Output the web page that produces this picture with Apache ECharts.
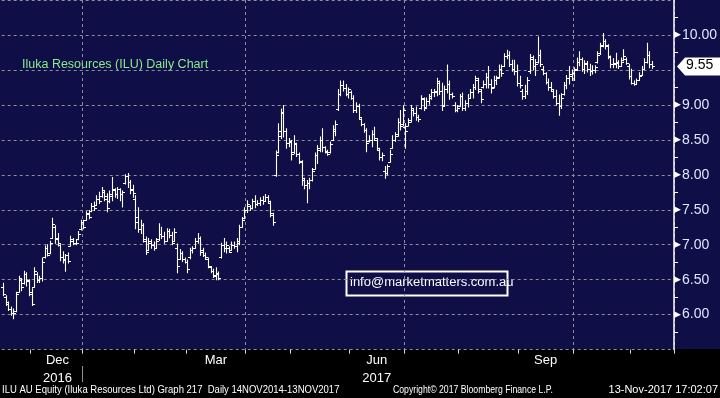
<!DOCTYPE html>
<html>
<head>
<meta charset="utf-8">
<script src="https://cdn.jsdelivr.net/npm/echarts@6/dist/echarts.min.js"></script>
<style>
  html, body { margin: 0; padding: 0; background: #000; }
  #main { width: 720px; height: 398px; }
</style>
</head>
<body>
<div id="main"></div>
<script>
// ILU daily bars, trading days 16 Nov 2016 - 13 Nov 2017
const openPx = [
  6.40,6.25,6.15,6.08,6.02,6.05,6.32,6.50,6.45,6.58, 6.48,6.30,6.40,6.58,6.50,6.52,6.82,6.95,6.88,7.10,
  7.25,7.10,7.00,6.82,6.80,6.85,6.98,7.06,7.02,7.08, 7.22,7.33,7.36,7.45,7.48,7.55,7.57,7.65,7.70,7.76,
  7.70,7.62,7.70,7.78,7.72,7.80,7.72,7.88,7.98,7.90, 7.80,
  7.66,7.40,7.22,7.28,7.05,6.92,7.02,7.00,6.96,7.08, 7.15,7.12,7.06,7.20,7.14,7.05,6.95,6.80,6.88,6.80,
  6.76,6.82,6.92,6.96,7.05,7.10,6.92,6.86,6.80,6.68, 6.62,6.55,6.58,6.82,7.00,6.95,6.96,6.92,7.00,6.98,
  7.02,7.26,7.38,7.50,7.55,7.52,7.62,7.58,7.60,7.64, 7.62,7.68,7.60,7.42,8.00,
  8.32,8.55,8.88,8.62,8.45,8.47,8.32,8.44,8.30,8.18, 7.92,7.85,7.88,7.92,8.08,8.28,8.36,8.50,8.40,8.32,
  8.32,8.50,8.62,8.94,9.15,9.28,9.24,9.16,9.18,9.10, 8.92,8.98,8.80,8.72,8.64,8.48,8.50,8.58,8.50,8.36,
  8.25,8.05,8.02,8.18,8.38,
  8.50,8.58,8.75,8.72,8.68,8.70,8.76,8.93,8.88,8.82, 8.95,9.08,8.97,9.05,9.10,9.18,9.18,9.32,9.20,9.00,
  9.22,9.30,9.15,9.00,8.92,8.98,9.12,8.95,9.02,9.10, 9.18,9.25,9.36,9.20,9.26,9.30,9.40,9.30,9.26,9.35,
  9.40,9.52,9.55,9.70,9.72,9.58,9.52,9.48,9.32,9.20,
  9.12,9.20,9.48,9.65,9.55,9.62,9.72,9.52,9.45,9.33, 9.25,9.20,9.12,9.02,8.98,9.15,9.28,9.38,9.42,9.45,
  9.52,9.62,9.65,9.52,9.58,9.52,9.48,9.50,9.62,9.74, 9.85,9.92,9.84,9.68,9.58,9.58,9.60,9.56,9.64,9.66,
  9.56,9.42,9.32,9.30,9.36,9.43,9.52,9.62,9.72,9.58
];
const highPx = [
  6.45,6.27,6.18,6.11,6.08,6.32,6.55,6.51,6.62,6.60, 6.50,6.37,6.67,6.60,6.55,6.81,6.98,7.00,7.05,7.38,
  7.27,7.16,7.00,6.90,6.86,6.88,7.12,7.09,7.07,7.19, 7.35,7.35,7.47,7.49,7.59,7.61,7.70,7.75,7.82,7.77,
  7.73,7.77,7.96,7.80,7.82,7.80,7.77,8.00,8.02,7.92, 7.85,
  7.70,7.53,7.35,7.30,7.11,7.09,7.07,7.04,7.09,7.30, 7.25,7.18,7.23,7.22,7.18,7.23,7.01,6.93,6.90,6.81,
  6.78,6.95,6.97,7.09,7.16,7.11,6.95,6.88,6.81,6.69, 6.65,6.67,6.61,7.02,7.09,7.04,6.97,7.04,7.04,7.09,
  7.28,7.39,7.53,7.63,7.56,7.65,7.70,7.63,7.67,7.69, 7.72,7.70,7.62,7.45,8.34,
  8.73,8.94,8.99,8.66,8.52,8.49,8.56,8.45,8.31,8.20, 7.95,7.92,7.95,8.09,8.31,8.42,8.54,8.66,8.40,8.35,
  8.47,8.70,8.77,9.22,9.34,9.34,9.29,9.24,9.20,9.13, 9.03,9.01,8.80,8.73,8.66,8.56,8.63,8.68,8.52,8.38,
  8.31,8.12,8.14,8.35,8.56,
  8.60,8.80,8.92,8.99,8.73,8.80,8.99,8.95,8.97,8.85, 9.13,9.10,9.10,9.15,9.22,9.22,9.38,9.34,9.31,9.27,
  9.57,9.34,9.17,9.03,8.99,9.15,9.17,9.06,9.15,9.22, 9.29,9.41,9.38,9.22,9.34,9.45,9.55,9.36,9.41,9.41,
  9.57,9.57,9.73,9.78,9.76,9.64,9.64,9.57,9.41,9.22,
  9.28,9.39,9.72,9.70,9.65,9.97,9.78,9.55,9.46,9.37, 9.32,9.22,9.21,9.14,9.16,9.32,9.42,9.55,9.50,9.53,
  9.67,9.76,9.67,9.63,9.62,9.58,9.56,9.56,9.76,9.88, 10.02,9.93,9.86,9.70,9.66,9.74,9.63,9.67,9.79,9.67,
  9.58,9.51,9.34,9.37,9.46,9.55,9.66,9.88,9.76,9.62
];
const lowPx = [
  6.27,6.13,6.06,5.99,5.94,6.04,6.32,6.34,6.44,6.41, 6.27,6.13,6.39,6.46,6.46,6.48,6.81,6.84,6.87,7.09,
  7.02,6.98,6.77,6.74,6.62,6.74,6.98,7.00,7.00,7.07, 7.21,7.23,7.35,7.37,7.47,7.49,7.56,7.59,7.68,7.63,
  7.47,7.60,7.63,7.68,7.66,7.63,7.54,7.87,7.82,7.73, 7.68,
  7.23,7.18,7.16,7.04,6.86,6.92,6.95,6.92,6.95,7.06, 7.09,7.02,7.05,7.10,7.00,7.05,6.60,6.79,6.76,6.74,
  6.60,6.80,6.88,6.95,7.02,6.85,6.83,6.79,6.67,6.60, 6.53,6.50,6.50,6.81,6.90,6.88,6.89,6.92,6.95,6.90,
  7.00,7.25,7.37,7.46,7.49,7.51,7.53,7.56,7.56,7.58, 7.62,7.60,7.40,7.28,7.98,
  8.31,8.52,8.54,8.38,8.40,8.21,8.30,8.26,8.16,7.85, 7.80,7.60,7.80,7.91,8.08,8.16,8.33,8.33,8.31,8.28,
  8.31,8.49,8.56,8.92,9.13,9.20,9.13,9.10,9.08,8.89, 8.89,8.80,8.70,8.61,8.33,8.47,8.40,8.49,8.35,8.21,
  8.20,7.95,8.00,8.18,8.38,
  8.48,8.55,8.64,8.70,8.38,8.70,8.76,8.84,8.78,8.76, 8.94,8.92,8.97,9.01,9.08,9.12,9.13,9.15,8.92,8.98,
  9.17,9.08,9.10,8.90,8.90,8.98,8.92,8.92,8.97,9.10, 9.10,9.22,9.17,9.03,9.24,9.24,9.24,9.17,9.24,9.29,
  9.38,9.41,9.55,9.66,9.55,9.48,9.43,9.27,9.24,9.08,
  9.09,9.15,9.45,9.50,9.42,9.60,9.55,9.43,9.30,9.21, 9.20,9.10,9.00,8.85,8.95,9.14,9.23,9.30,9.35,9.35,
  9.49,9.56,9.48,9.45,9.47,9.42,9.44,9.46,9.60,9.72, 9.83,9.80,9.66,9.53,9.53,9.53,9.52,9.55,9.63,9.58,
  9.37,9.30,9.28,9.29,9.35,9.42,9.52,9.60,9.53,9.52
];
const closePx = [
  6.30,6.18,6.08,6.02,6.03,6.30,6.52,6.40,6.58,6.50, 6.32,6.15,6.62,6.50,6.52,6.76,6.95,6.86,7.03,7.30,
  7.08,7.02,6.82,6.78,6.85,6.77,7.08,7.02,7.03,7.15, 7.33,7.26,7.44,7.40,7.55,7.52,7.66,7.62,7.78,7.66,
  7.52,7.72,7.80,7.72,7.80,7.72,7.76,7.98,7.90,7.78, 7.74,
  7.32,7.22,7.28,7.08,6.90,7.05,7.00,6.95,7.05,7.15, 7.12,7.05,7.20,7.14,7.03,7.18,6.70,6.88,6.80,6.76,
  6.65,6.92,6.95,7.05,7.10,6.90,6.86,6.82,6.70,6.62, 6.56,6.60,6.52,7.00,6.95,7.00,6.90,7.00,6.98,7.05,
  7.25,7.35,7.50,7.58,7.52,7.62,7.58,7.60,7.64,7.62, 7.68,7.62,7.45,7.32,8.28,
  8.62,8.90,8.62,8.45,8.48,8.30,8.45,8.30,8.20,7.95, 7.85,7.88,7.92,8.05,8.28,8.38,8.50,8.40,8.34,8.30,
  8.44,8.65,8.72,9.15,9.28,9.24,9.16,9.22,9.10,8.92, 8.98,8.82,8.72,8.64,8.45,8.50,8.58,8.52,8.38,8.25,
  8.28,8.02,8.12,8.30,8.50,
  8.56,8.75,8.70,8.92,8.62,8.78,8.95,8.88,8.82,8.80, 9.10,8.96,9.05,9.12,9.18,9.20,9.34,9.20,8.98,9.22,
  9.30,9.15,9.12,8.92,8.95,9.12,8.95,9.02,9.10,9.18, 9.25,9.38,9.22,9.08,9.30,9.40,9.30,9.24,9.36,9.38,
  9.52,9.45,9.70,9.72,9.58,9.52,9.48,9.32,9.28,9.12,
  9.20,9.35,9.68,9.55,9.58,9.72,9.58,9.46,9.33,9.25, 9.22,9.12,9.03,8.98,9.10,9.28,9.38,9.44,9.45,9.50,
  9.62,9.65,9.52,9.60,9.52,9.48,9.50,9.54,9.72,9.84, 9.92,9.86,9.70,9.58,9.60,9.62,9.55,9.62,9.70,9.60,
  9.42,9.32,9.30,9.35,9.42,9.52,9.62,9.72,9.58,9.55
];

// first trading day of each month (bar index), Dec .. Nov
const monthStarts = [11, 31, 51, 71, 94, 111, 134, 155, 176, 199, 220, 242];
// quarter boundaries get a vertical grid line
const quarterStarts = [31, 94, 155, 220];
// labelled months: text and [first bar, first bar of next month]
const monthNames = ['Dec\n2016', 'Mar', 'Jun\n2017', 'Sep'];
const monthSpans = [[11, 31], [71, 94], [134, 155], [199, 220]];
// axis slots (bars plus empty space on the right)
const slotCount = 259;
const yTicks = [6, 6.5, 7, 7.5, 8, 8.5, 9, 10];

const navy = '#0f0e47';
const gridGray = '#8e8e9e';
const footFont = '11px "Liberation Sans"';

const cats = [];
for (let i = 0; i < slotCount; i++) cats.push('');
monthSpans.forEach((s, j) => { cats[Math.floor((s[0] + s[1]) / 2)] = monthNames[j]; });

const ohlc = openPx.map((o, i) => [i, o, closePx[i], lowPx[i], highPx[i]]);

const chart = echarts.init(document.getElementById('main'));

function renderBar(params, api) {
  const i = api.value(0);
  const pO = api.coord([i, api.value(1)]);
  const pC = api.coord([i, api.value(2)]);
  const pL = api.coord([i, api.value(3)]);
  const pH = api.coord([i, api.value(4)]);
  const x = Math.round(pH[0]) + 0.5;
  const st = { stroke: '#ffffff', lineWidth: 1.1 };
  return {
    type: 'group',
    children: [
      { type: 'line', shape: { x1: x, y1: pH[1] - 0.5, x2: x, y2: pL[1] + 0.5 }, style: st },
      { type: 'line', shape: { x1: x - 2.5, y1: Math.round(pO[1]) + 0.5, x2: x, y2: Math.round(pO[1]) + 0.5 }, style: st },
      { type: 'line', shape: { x1: x, y1: Math.round(pC[1]) + 0.5, x2: x + 2.5, y2: Math.round(pC[1]) + 0.5 }, style: st }
    ]
  };
}

const option = {
  backgroundColor: '#000',
  animation: false,
  grid: { left: 1.4, right: 44, top: -6.05, bottom: 48.4 },
  xAxis: {
    type: 'category',
    data: cats,
    boundaryGap: true,
    axisLine: { show: false },
    axisTick: {
      show: true,
      length: 4,
      interval: (i) => monthStarts.indexOf(i) >= 0,
      lineStyle: { color: '#d8d8d8', width: 1 }
    },
    axisLabel: {
      interval: 0,
      color: '#ffffff',
      fontFamily: 'Liberation Sans',
      fontSize: 13,
      lineHeight: 18,
      margin: 2
    },
    splitLine: {
      show: true,
      interval: (i) => quarterStarts.indexOf(i) >= 0,
      lineStyle: { color: gridGray, type: [3, 3], width: 1 }
    }
  },
  yAxis: {
    type: 'value',
    position: 'right',
    min: 5.5,
    max: 10.5,
    interval: 0.5,
    axisLine: { show: true, lineStyle: { color: '#ffffff', width: 1.5 } },
    axisTick: { show: false },
    minorTick: { show: true, splitNumber: 2, length: 4, lineStyle: { color: '#ffffff', width: 1 } },
    splitLine: { show: true, lineStyle: { color: gridGray, type: [3, 3], width: 1 } },
    axisLabel: {
      margin: 0,
      formatter: (v) => yTicks.indexOf(v) >= 0 ? '{t|\u25B6}{v|' + v.toFixed(2) + '}' : '',
      rich: {
        t: { color: '#ffffff', fontSize: 9, fontFamily: 'DejaVu Sans', padding: [0, 1, 0, 0] },
        v: { color: '#dfe6ff', fontSize: 14, fontFamily: 'Liberation Sans' }
      }
    }
  },
  series: [{
    type: 'custom',
    renderItem: renderBar,
    encode: { x: 0, y: [1, 2, 3, 4] },
    data: ohlc,
    clip: true
  }],
  graphic: [
    { type: 'rect', id: 'bg', z: -100, silent: true,
      shape: { x: 0, y: 0, width: 720, height: 349 }, style: { fill: navy } },
    { type: 'text', id: 'title', left: 22, top: 58,
      style: { text: 'Iluka Resources (ILU) Daily Chart', fill: '#8ceb8c',
               font: '12.5px "Liberation Sans"' } },
    { type: 'rect', id: 'infoBox', shape: { x: 346.5, y: 271.5, width: 161, height: 24 },
      style: { fill: navy, stroke: '#ffffff', lineWidth: 2 } },
    { type: 'text', id: 'info', left: 350, top: 276,
      style: { text: 'info@marketmatters.com.au', fill: '#ffffff', font: '13px "Liberation Sans"' } },
    { type: 'text', id: 'foot1', x: 2, y: 384, scaleX: 0.865,
      style: { text: 'ILU AU Equity (Iluka Resources Ltd) Graph 217  Daily 14NOV2014-13NOV2017',
               fill: '#ffffff', font: footFont } },
    { type: 'text', id: 'foot2', x: 393, y: 384, scaleX: 0.79,
      style: { text: 'Copyright\u00A9 2017 Bloomberg Finance L.P.', fill: '#ffffff', font: footFont } },
    { type: 'text', id: 'foot3', right: 2, top: 384,
      style: { text: '13-Nov-2017 17:02:07', fill: '#ffffff', font: footFont } }
  ]
};
chart.setOption(option);

// year separator under the axis and last-price tag, placed through the axes
const band = chart.convertToPixel({ xAxisIndex: 0 }, 1) - chart.convertToPixel({ xAxisIndex: 0 }, 0);
const sepX = Math.round(chart.convertToPixel({ xAxisIndex: 0 }, quarterStarts[0]) - band / 2) + 0.5;
const last = closePx[closePx.length - 1];
const tagY = chart.convertToPixel({ yAxisIndex: 0 }, last);
const axisX = 676;
chart.setOption({
  graphic: [
    { type: 'line', id: 'yearSep', shape: { x1: sepX, y1: 366, x2: sepX, y2: 382 },
      style: { stroke: '#909090', lineWidth: 1 } },
    { type: 'polygon', id: 'tag', z: 100,
      shape: { points: [[axisX + 1, tagY], [axisX + 9, tagY - 9], [720, tagY - 9], [720, tagY + 9], [axisX + 9, tagY + 9]] },
      style: { fill: '#ffffff' } },
    { type: 'text', id: 'tagText', z: 101, left: axisX + 10, top: tagY - 8,
      style: { text: last.toFixed(2), fill: '#000000', font: '14px "Liberation Sans"' } }
  ]
});
</script>
</body>
</html>
